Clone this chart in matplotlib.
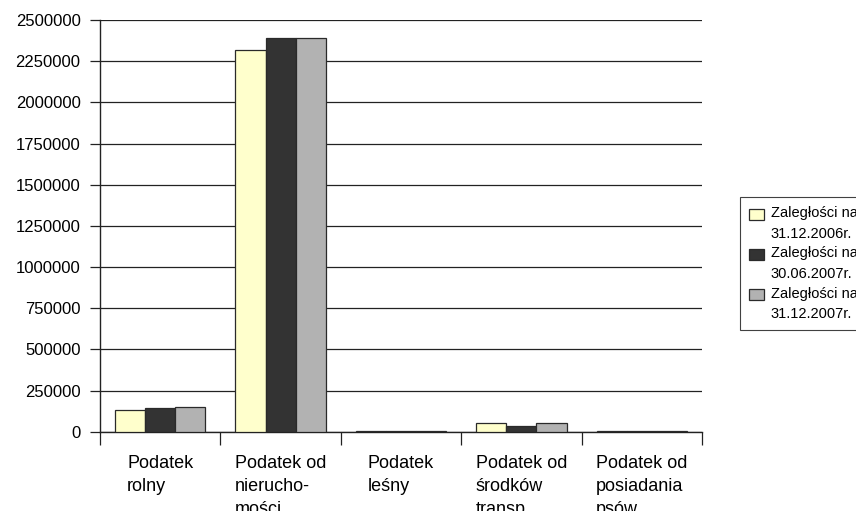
import matplotlib
matplotlib.use("Agg")
import matplotlib.pyplot as plt
import numpy as np
from matplotlib.ticker import FixedLocator, NullFormatter
from matplotlib.patches import Rectangle
from matplotlib.legend_handler import HandlerPatch

categories = ["Podatek\nrolny", "Podatek od\nnierucho-\nmości", "Podatek\nleśny",
              "Podatek od\nśrodków\ntransp.", "Podatek od\nposiadania\npsów"]
series_names = ["Zaległości na\n31.12.2006r.", "Zaległości na\n30.06.2007r.", "Zaległości na\n31.12.2007r."]
values_2006_12 = [132000, 2316000, 1500, 51000, 1500]
values_2007_06 = [146000, 2389000, 1500, 36000, 1500]
values_2007_12 = [147000, 2389000, 1500, 51000, 1500]
yticks = [0, 250000, 500000, 750000, 1000000, 1250000, 1500000, 1750000, 2000000, 2250000, 2500000]
colors = ["#FFFFCC", "#333333", "#B2B2B2"]

plt.rcParams['font.family'] = ['Liberation Sans', 'DejaVu Sans']

fig = plt.figure(figsize=(8.56, 5.11), dpi=100)
ax = fig.add_axes([100/856, 1-431.7/511, 602/856, 411.7/511])

n = len(categories)
x = np.arange(n)
w = 0.25
all_vals = [values_2006_12, values_2007_06, values_2007_12]
handles = []
for i, (vals, c, name) in enumerate(zip(all_vals, colors, series_names)):
    b = ax.bar(x + (i - 1) * w, vals, width=w, color=c, edgecolor="#2a2a2a",
               linewidth=0.9, label=name, zorder=3)
    handles.append(b.patches[0])

ax.set_xlim(-0.5, n - 0.5)
ax.set_ylim(0, 2500000)
ax.set_yticks(yticks)
ax.set_yticklabels([str(v) for v in yticks], fontsize=12)
ax.yaxis.grid(True, color="#222222", linewidth=0.9, zorder=0)
ax.tick_params(axis='y', length=7, width=0.9, color="#222222", pad=7)

ax.set_xticks(x)
ax.set_xticklabels(categories, fontsize=13, multialignment='left', linespacing=1.45)
ax.tick_params(axis='x', which='major', length=0, pad=17)
ax.xaxis.set_minor_locator(FixedLocator(np.arange(-0.5, n, 1.0)))
ax.xaxis.set_minor_formatter(NullFormatter())
ax.tick_params(axis='x', which='minor', length=9, width=0.9, color="#222222")

for s in ["top", "right"]:
    ax.spines[s].set_visible(False)
for s in ["left", "bottom"]:
    ax.spines[s].set_color("#222222")
    ax.spines[s].set_linewidth(1.0)


def top_rect(legend, orig_handle, xdescent, ydescent, width, height, fontsize):
    return Rectangle((-xdescent, -ydescent + 7.0), width, height)


leg = fig.legend(handles=handles, labels=series_names, loc="upper left",
                 bbox_to_anchor=(740/856, 1-197.5/511), fontsize=10.5,
                 fancybox=False, frameon=True, edgecolor="#111111",
                 handlelength=1.05, handleheight=0.8, handletextpad=0.45,
                 labelspacing=0.38, borderpad=0.6, borderaxespad=0,
                 handler_map={Rectangle: HandlerPatch(patch_func=top_rect)})
for t in leg.get_texts():
    t.set_linespacing(1.6)
leg.get_frame().set_linewidth(0.8)

fig.savefig("out.png", dpi=100)
